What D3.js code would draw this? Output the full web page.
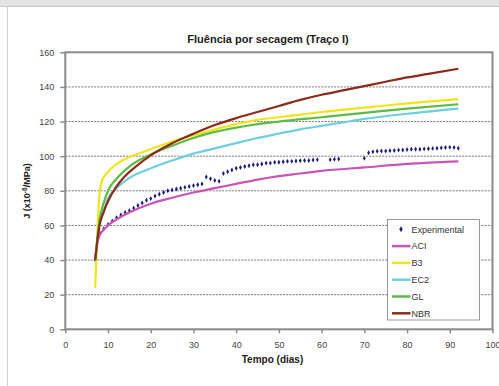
<!DOCTYPE html>
<html>
<head>
<meta charset="utf-8">
<script src="https://cdn.jsdelivr.net/npm/d3@7"></script>
<style>
  html, body { margin: 0; padding: 0; background: #fff; }
  svg { display: block; }
  text { font-family: "Liberation Sans", Arial, sans-serif; }
</style>
</head>
<body>
<svg id="chart" width="499" height="386"></svg>
<script>
// ---- Data ----
const title = "Fluência por secagem (Traço I)";
const xLabel = "Tempo (dias)";
const xTicks = [0, 10, 20, 30, 40, 50, 60, 70, 80, 90, 100];
const yTicks = [0, 20, 40, 60, 80, 100, 120, 140, 160];
const seriesNames = ["Experimental", "ACI", "B3", "EC2", "GL", "NBR"];

const expT = [7,8,9,10,11,12,13,14,15,16,17,18,19,20,21,22,23,24,25,26,27,28,29,30,31,32,33,34,35,36,37,38,39,40,41,42,43,44,45,46,47,48,49,50,51,52,53,54,55,56,57,58,59,62,63,64,70,71,72,73,74,75,76,77,78,79,80,81,82,83,84,85,86,87,88,89,90,91,92];
const expJ = [40,56,58,60.5,62.5,64.5,66,67.5,68.5,70,71.5,73,74.5,75.5,77,78,79,80,80.5,81,81.5,82,82.5,83,83.5,84,88,87,86,85.5,90,91,92,93,93.5,94,94.5,95,95,95.5,96,96,96.5,96.5,96.8,97,97,97.2,97.4,97.5,97.5,97.8,98,98,98.2,98.4,98.8,102,102.5,102.8,103,103,103.2,103.3,103.5,103.6,103.8,104,104,104,104.2,104.3,104.5,104.6,104.8,105,105.1,105,104.6];

const aciT = [7,7.5,8,9,10,12,15,20,25,30,35,40,45,50,55,60,70,80,92];
const aciJ = [40,50,54,57.5,60,63.5,67.5,72.5,76,79,81.5,84,86.5,88.5,90,91.5,93.5,95.5,97];

const b3T = [7,8,8.6,9,10,12,15,20,25,30,35,40,45,50,55,60,70,80,92];
const b3J = [24,78,86,88,91,95.5,99.5,104,108.5,112,115.5,118.5,121,122.5,124,125.5,128,130.5,133];

const ec2T = [7,8,9,10,12,15,20,25,30,35,40,45,50,55,60,65,70,80,92];
const ec2J = [40,60,68,75.5,81.5,87.5,93,97.5,101.5,104.5,107.5,110.5,113,115.5,117.5,119.5,121.5,124.5,127.5];

const glT = [7,8,9,10,12,15,20,25,30,35,40,45,50,60,70,80,92];
const glJ = [40,63,73,80,87,94,101,106,110.5,114,116.5,118.5,120,122.5,125,127.5,130];

const nbrT = [7,8,9,10,12,14,17,20,25,30,35,40,45,50,55,60,65,70,75,80,85,92];
const nbrJ = [40,60,68,74,82.5,88.5,95,100.5,107.5,113,118,122,125.5,129,132.5,135.5,138,140.5,143,145.5,147.5,150.5];

// ---- Layout / styles ----
const colors = {
  Experimental: "#1c1c7a",
  ACI: "#c855b8",
  B3: "#f2e41c",
  EC2: "#6fcfe0",
  GL: "#5cbb45",
  NBR: "#8c2a1c"
};

const svg = d3.select("#chart");
const W = 499, H = 386;

// outer frame
svg.append("rect").attr("x", 0).attr("y", 0).attr("width", W).attr("height", 6).attr("fill", "#e4e4e4");
svg.append("line").attr("x1", 0).attr("x2", W).attr("y1", 6.5).attr("y2", 6.5).attr("stroke", "#c8c8c8");
svg.append("line").attr("x1", 7.5).attr("x2", 7.5).attr("y1", 6).attr("y2", H).attr("stroke", "#cfcfcf");

const x = d3.scaleLinear().domain([0, 100]).range([65.3, 492.5]);
const y = d3.scaleLinear().domain([0, 160]).range([329.3, 52.3]);

// gridlines
svg.append("g").selectAll("line").data(yTicks.filter(v => v > 0 && v < 160)).join("line")
  .attr("x1", x(0)).attr("x2", x(100))
  .attr("y1", d => y(d)).attr("y2", d => y(d))
  .attr("stroke", "#777").attr("stroke-width", 1).attr("stroke-dasharray", "2,1.2");

// plot border
svg.append("rect")
  .attr("x", x(0)).attr("y", y(160))
  .attr("width", x(100) - x(0)).attr("height", y(0) - y(160))
  .attr("fill", "none").attr("stroke", "#8a8a8a").attr("stroke-width", 2);

// axes
const yAxis = d3.axisLeft(y).tickValues(yTicks).tickSize(5).tickPadding(6);
const gy = svg.append("g").attr("transform", `translate(${x(0)},0)`).call(yAxis);
gy.select(".domain").remove();
gy.selectAll(".tick line").attr("stroke", "#8a8a8a").attr("stroke-width", 1.5);
gy.selectAll(".tick text").attr("font-size", 9).attr("fill", "#444")
  .attr("font-family", "'Liberation Sans', Arial, sans-serif");

const xAxis = d3.axisBottom(x).tickValues(xTicks).tickSize(4).tickPadding(8);
const gx = svg.append("g").attr("transform", `translate(0,${y(0)})`).call(xAxis);
gx.select(".domain").remove();
gx.selectAll(".tick line").attr("stroke", "#8a8a8a").attr("stroke-width", 1.5);
gx.selectAll(".tick text").attr("font-size", 9).attr("fill", "#444")
  .attr("font-family", "'Liberation Sans', Arial, sans-serif");

// experimental points
const expData = expT.map((t, i) => ({ t, j: expJ[i] }));
svg.append("g").selectAll("path").data(expData).join("path")
  .attr("d", d3.symbol().type(d3.symbolDiamond).size(7))
  .attr("transform", d => `translate(${x(d.t)},${y(d.j)})`)
  .attr("fill", colors.Experimental);

// model lines
const line = d3.line().x(d => x(d.t)).y(d => y(d.j)).curve(d3.curveMonotoneX);
const models = [
  { name: "ACI", t: aciT, j: aciJ },
  { name: "B3", t: b3T, j: b3J },
  { name: "EC2", t: ec2T, j: ec2J },
  { name: "GL", t: glT, j: glJ },
  { name: "NBR", t: nbrT, j: nbrJ }
];
models.forEach(m => {
  const data = m.t.map((t, i) => ({ t, j: m.j[i] }));
  svg.append("path").datum(data)
    .attr("d", line)
    .attr("fill", "none")
    .attr("stroke", colors[m.name])
    .attr("stroke-width", 2.2)
    .attr("stroke-linejoin", "round");
});

// title and axis labels
svg.append("text").attr("x", 268).attr("y", 42.5).attr("text-anchor", "middle")
  .attr("font-size", 11).attr("font-weight", "bold").attr("fill", "#222").text(title);

svg.append("text").attr("x", 272.5).attr("y", 362.5).attr("text-anchor", "middle")
  .attr("font-size", 10).attr("font-weight", "bold").attr("fill", "#222").text(xLabel);

const yl = svg.append("text")
  .attr("transform", "translate(30,191) rotate(-90)")
  .attr("text-anchor", "middle")
  .attr("font-size", 9).attr("font-weight", "bold").attr("fill", "#222");
yl.append("tspan").text("J (x10");
yl.append("tspan").attr("font-size", 6.5).attr("dy", -3.5).text("-6");
yl.append("tspan").attr("dy", 3.5).text("/MPa)");

// legend
const lg = svg.append("g");
lg.append("rect").attr("x", 387.5).attr("y", 219.5).attr("width", 92).attr("height", 100.5)
  .attr("fill", "#fff").attr("stroke", "#9a9a9a").attr("stroke-width", 1);
seriesNames.forEach((name, i) => {
  const cy = 229.3 + i * 16.8;
  if (name === "Experimental") {
    lg.append("path").attr("d", d3.symbol().type(d3.symbolDiamond).size(10))
      .attr("transform", `translate(401,${cy})`).attr("fill", colors[name]);
  } else {
    lg.append("line").attr("x1", 392).attr("x2", 410.5).attr("y1", cy).attr("y2", cy)
      .attr("stroke", colors[name]).attr("stroke-width", 2.5);
  }
  lg.append("text").attr("x", 411.5).attr("y", cy + 3.2)
    .attr("font-size", 9).attr("fill", "#333").text(name);
});
</script>
</body>
</html>
